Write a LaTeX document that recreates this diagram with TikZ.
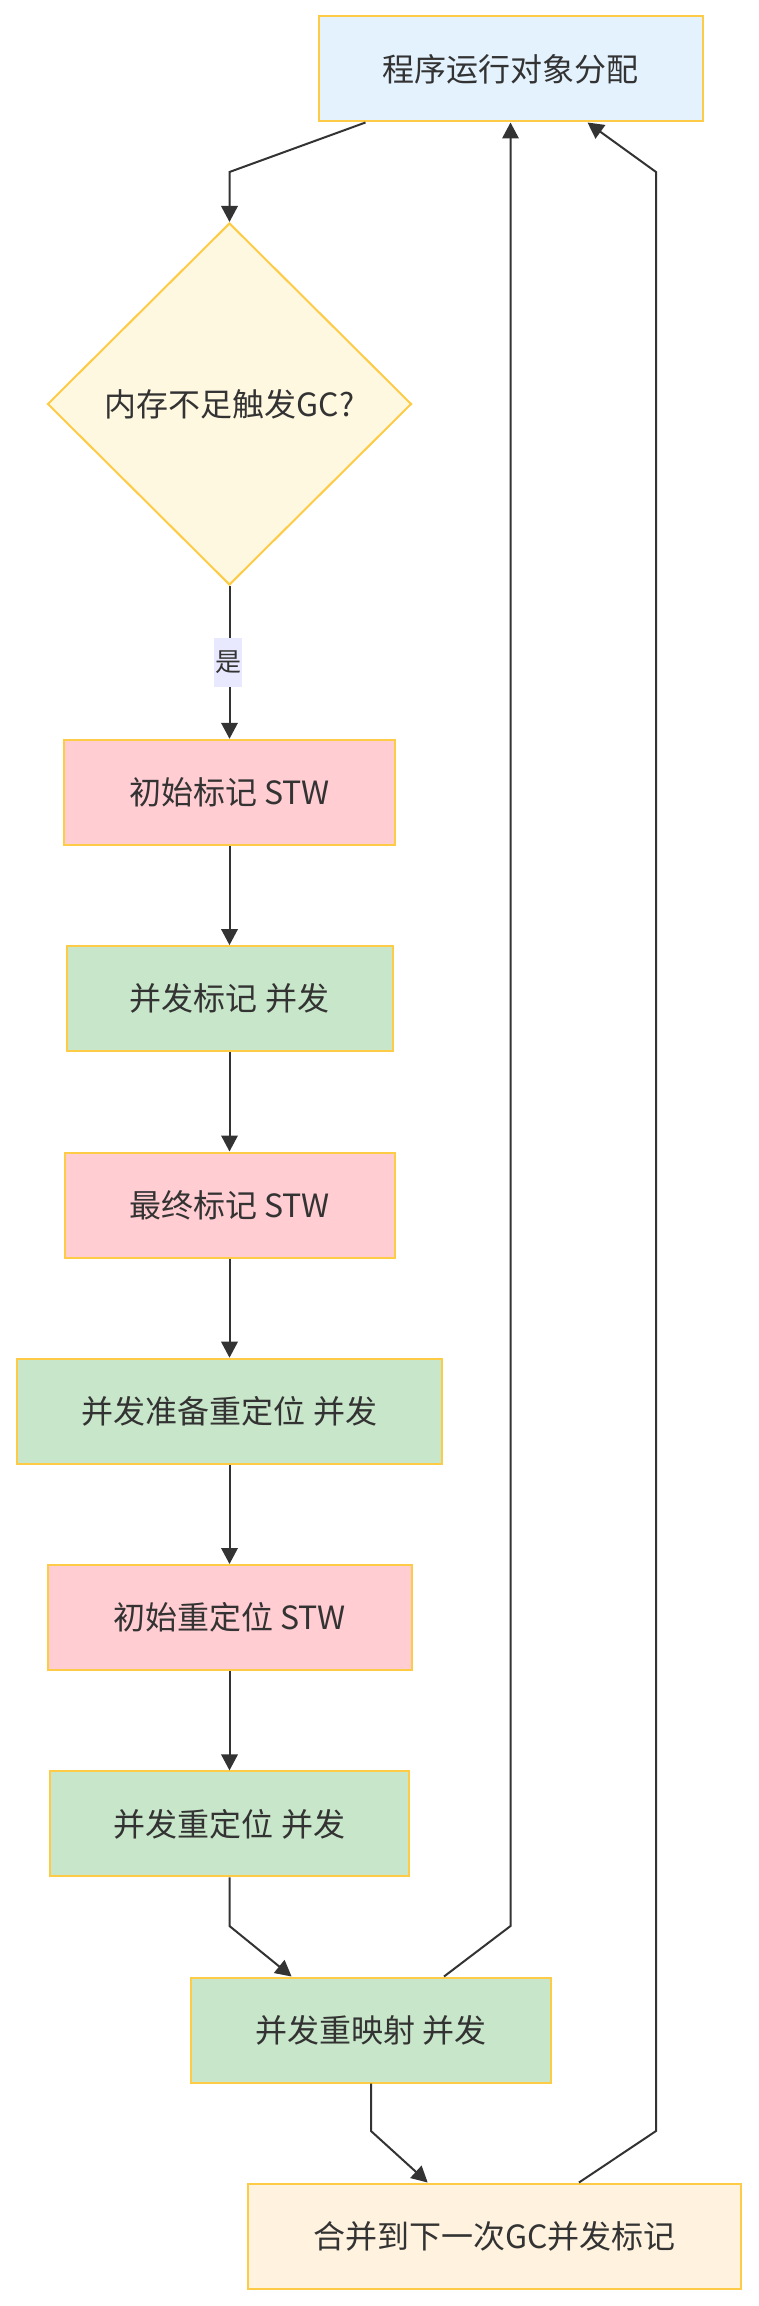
\documentclass[tikz,border=0pt]{standalone}
\usepackage{fontspec}
\setmainfont{Noto Sans CJK SC}
\usetikzlibrary{arrows.meta,shapes.geometric,calc}
\definecolor{txt}{HTML}{333333}
\definecolor{edge}{HTML}{333333}
\definecolor{bord}{HTML}{FDCB45}
\definecolor{cblue}{HTML}{E3F2FD}
\definecolor{cdia}{HTML}{FFF8E1}
\definecolor{cred}{HTML}{FFCDD2}
\definecolor{cgreen}{HTML}{C8E6C9}
\definecolor{corange}{HTML}{FFF3E0}
\definecolor{clab}{HTML}{E8E8FF}
\tikzset{
  box/.style={rectangle, draw=bord, line width=2pt, inner sep=0pt,
    minimum height=105pt, text=txt, font=\fontsize{32}{38}\selectfont},
  decision/.style={diamond, draw=bord, line width=2pt, inner sep=0pt, fill=cdia,
    minimum width=364pt, minimum height=362pt, text=txt, font=\fontsize{32}{38}\selectfont},
  conn/.style={draw=edge, line width=2pt, -{Triangle[length=16pt,width=16.5pt]}},
  lab/.style={fill=clab, inner sep=0pt, minimum width=28.3pt, minimum height=48.3pt,
    text=txt, font=\fontsize{26}{30}\selectfont}
}
\begin{document}
\begin{tikzpicture}[x=1pt,y=-1pt]
\useasboundingbox (0,0) rectangle (758,2306);
\node[box, fill=cblue, minimum width=384pt] (A) at (510.5,69) {程序运行对象分配};
\node[decision] (B) at (229.5,404) {内存不足触发GC?};
\node[box, fill=cred, minimum width=331pt] (C) at (229.5,792.3) {初始标记 STW};
\node[box, fill=cgreen, minimum width=326pt] (D) at (229.5,998.6) {并发标记 并发};
\node[box, fill=cred, minimum width=330pt] (E) at (229.5,1205) {最终标记 STW};
\node[box, fill=cgreen, minimum width=425pt] (F) at (229.5,1411.2) {并发准备重定位 并发};
\node[box, fill=cred, minimum width=364pt] (G) at (229.5,1617.5) {初始重定位 STW};
\node[box, fill=cgreen, minimum width=359pt] (H) at (229.5,1823.9) {并发重定位 并发};
\node[box, fill=cgreen, minimum width=360pt] (I) at (371,2030) {并发重映射 并发};
\node[box, fill=corange, minimum width=493pt] (J) at (494.5,2236) {合并到下一次GC并发标记};

\coordinate (ab) at (229.5,172);
\coordinate (hi) at (229.5,1926);
\coordinate (ia) at (510.5,1926);
\coordinate (ij) at (371,2131);
\coordinate (ja1) at (656,2131);
\coordinate (ja2) at (656,172);

\draw[conn] ([xshift=48pt]A.south west) -- (ab) -- (B.north);
\draw[conn] (B.south) -- node[lab, xshift=-1.5pt] {是} (C.north);
\draw[conn] (C.south) -- (D.north);
\draw[conn] (D.south) -- (E.north);
\draw[conn] (E.south) -- (F.north);
\draw[conn] (F.south) -- (G.north);
\draw[conn] (G.south) -- (H.north);
\draw[conn] (H.south) -- (hi) -- ([xshift=101.6pt]I.north west);
\draw[conn] ([xshift=254pt]I.north west) -- (ia) -- (ia |- A.south);
\draw[conn] (I.south) -- (ij) -- ([xshift=180.7pt]J.north west);
\draw[conn] ([xshift=332pt]J.north west) -- (ja1) -- (ja2) -- ([xshift=270pt]A.south west);
\end{tikzpicture}
\end{document}
